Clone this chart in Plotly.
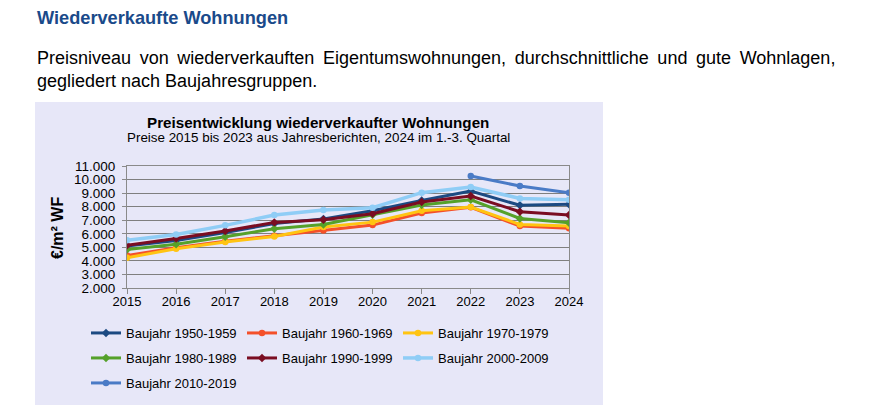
import plotly.graph_objects as go

years = [2015, 2016, 2017, 2018, 2019, 2020, 2021, 2022, 2023, 2024]

series_names = [
    "Baujahr 1950-1959", "Baujahr 1960-1969", "Baujahr 1970-1979",
    "Baujahr 1980-1989", "Baujahr 1990-1999", "Baujahr 2000-2009",
    "Baujahr 2010-2019",
]
bj_1950 = [5100, 5500, 6100, 6750, 7100, 7700, 8450, 9150, 8100, 8170]
bj_1960 = [4400, 4970, 5450, 5850, 6250, 6640, 7530, 7950, 6570, 6400]
bj_1970 = [4230, 4900, 5400, 5800, 6500, 6860, 7700, 7970, 6690, 6570]
bj_1980 = [4840, 5220, 5780, 6370, 6690, 7400, 8120, 8510, 7130, 6810]
bj_1990 = [5160, 5650, 6200, 6840, 7030, 7480, 8340, 8780, 7630, 7380]
bj_2000 = [5530, 5950, 6620, 7380, 7750, 7920, 9030, 9450, 8610, 8510]
bj_2010 = [None, None, None, None, None, None, None, 10260, 9520, 9030]

y_ticks = [2000, 3000, 4000, 5000, 6000, 7000, 8000, 9000, 10000, 11000]

colors = ["#1c4a82", "#f4502a", "#ffc412", "#55a12a", "#7a0d22", "#8fcdf6", "#4a7bc6"]
symbols = ["diamond", "circle", "circle", "diamond", "diamond", "circle", "circle"]
widths = [3, 3, 3, 3, 3, 3.5, 3]
legend_of = ["legend", "legend", "legend", "legend2", "legend2", "legend2", "legend3"]
data = [bj_1950, bj_1960, bj_1970, bj_1980, bj_1990, bj_2000, bj_2010]

W, H = 873, 420
FONT = "Liberation Sans, Arial, sans-serif"

fig = go.Figure()
for name, vals, c, s, w, lg in zip(series_names, data, colors, symbols, widths, legend_of):
    fig.add_trace(go.Scatter(
        x=years, y=vals, name=name, mode="lines+markers",
        line=dict(color=c, width=w),
        marker=dict(color=c, size=6.5, symbol=s),
        legend=lg, connectgaps=False,
    ))

def px_x(x):
    return x / W

def px_y(y):
    return 1 - y / H

# chart box background
fig.add_shape(type="rect", xref="paper", yref="paper",
              x0=px_x(35), x1=px_x(603), y0=px_y(405), y1=px_y(102),
              fillcolor="#e7e7f8", line=dict(width=0), layer="below")

def legend_cfg(ypx):
    return dict(orientation="h", x=px_x(86), y=px_y(ypx), xanchor="left", yanchor="middle",
                font=dict(size=13, family=FONT), bgcolor="rgba(0,0,0,0)",
                itemwidth=30, entrywidth=111, entrywidthmode="pixels", tracegroupgap=0)

fig.update_layout(
    width=W, height=H,
    autosize=False,
    margin=dict(l=0, r=0, t=0, b=0, pad=0, autoexpand=False),
    paper_bgcolor="white",
    plot_bgcolor="rgba(0,0,0,0)",
    separators=",.",
    font=dict(family=FONT, color="#000000", size=13),
    showlegend=True,
    xaxis=dict(
        domain=[px_x(127), px_x(569)],
        range=[2015, 2024],
        tickvals=years, ticktext=[str(y) for y in years],
        showgrid=False, showline=True, linecolor="#8a8a8a", linewidth=1,
        mirror=True, automargin=False,
        ticks="outside", ticklen=5, tickcolor="#8a8a8a", ticklabelstandoff=-4,
        tickfont=dict(size=13, family=FONT), zeroline=False, fixedrange=True,
    ),
    yaxis=dict(
        domain=[px_y(288), px_y(166)],
        range=[2000, 11000],
        tickvals=y_ticks, tickformat=",d",
        showgrid=True, gridcolor="#7f7f7f", gridwidth=1,
        showline=True, linecolor="#8a8a8a", linewidth=1, mirror=True, automargin=False,
        ticks="outside", ticklen=4, tickcolor="#8a8a8a", ticklabelstandoff=4,
        tickfont=dict(size=13.5, family=FONT), zeroline=False, fixedrange=True,
    ),
    legend=legend_cfg(333),
    legend2=legend_cfg(358),
    legend3=legend_cfg(383),
)

line1 = "Preisniveau von wiederverkauften Eigentumswohnungen, durchschnittliche und gute Wohnlagen,"
line1 = line1.replace(" ", " \u2009")

ann = [
    dict(text="<b>Wiederverkaufte Wohnungen</b>", x=px_x(35), y=px_y(18),
         xanchor="left", yanchor="middle", font=dict(size=18.2, color="#1a4a8a", family=FONT)),
    dict(text=line1,
         x=px_x(35), y=px_y(58), xanchor="left", yanchor="middle",
         font=dict(size=18, color="#000000", family=FONT)),
    dict(text="gegliedert nach Baujahresgruppen.",
         x=px_x(35), y=px_y(81), xanchor="left", yanchor="middle",
         font=dict(size=18, color="#000000", family=FONT)),
    dict(text="<b>Preisentwicklung wiederverkaufter Wohnungen</b>",
         x=px_x(318), y=px_y(122), xanchor="center", yanchor="middle",
         font=dict(size=15.2, color="#000000", family=FONT)),
    dict(text="Preise 2015 bis 2023 aus Jahresberichten, 2024 im 1.-3. Quartal",
         x=px_x(318), y=px_y(138), xanchor="center", yanchor="middle",
         font=dict(size=13.4, color="#000000", family=FONT)),
    dict(text="<b>€/m² WF</b>", x=px_x(58), y=px_y(228), xanchor="center", yanchor="middle",
         textangle=-90, font=dict(size=16, color="#000000", family=FONT)),
]
for a in ann:
    a.update(xref="paper", yref="paper", showarrow=False)
fig.update_layout(annotations=ann)

fig.write_html("out.html")
